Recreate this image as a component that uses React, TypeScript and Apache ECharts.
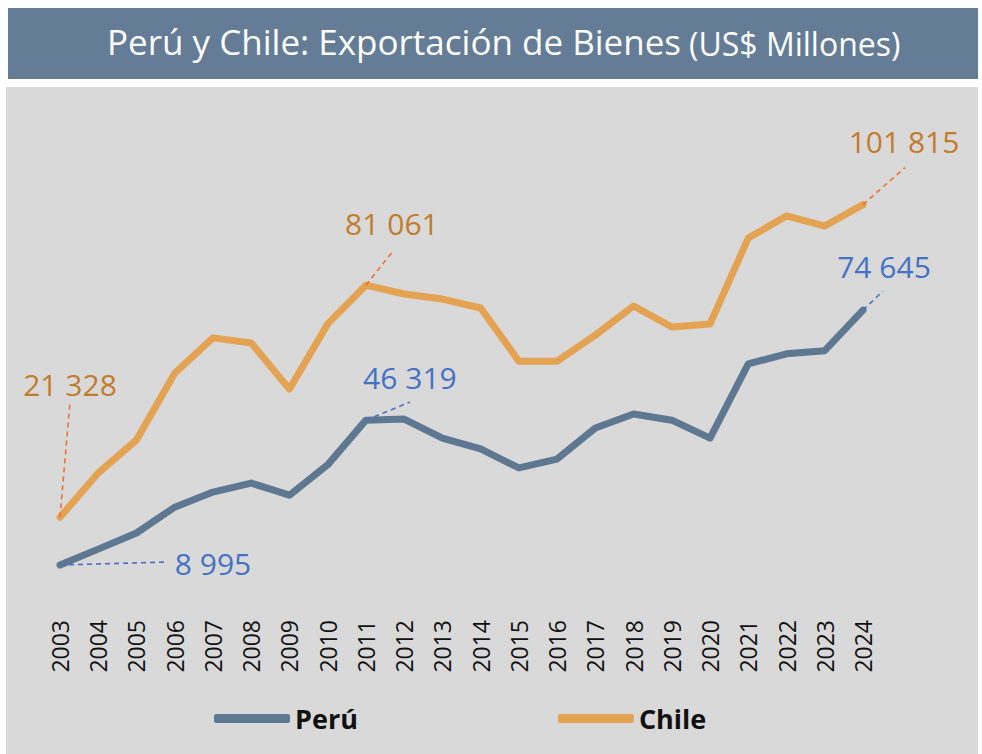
import React, { useEffect, useRef } from "react";
import * as echarts from "echarts";

const years = ["2003","2004","2005","2006","2007","2008","2009","2010","2011","2012","2013","2014","2015","2016","2017","2018","2019","2020","2021","2022","2023","2024"];
const peru = [8995, 13100, 17250, 23900, 27800, 30100, 27000, 34800, 46319, 46600, 41700, 38900, 34000, 36300, 44300, 47900, 46300, 41700, 60800, 63400, 64200, 74645];
const chile = [21328, 32700, 41200, 58400, 67500, 66200, 54300, 71100, 81061, 78800, 77500, 75200, 61500, 61500, 68200, 75700, 70300, 71100, 93200, 98900, 96300, 101815];
const labeledIdx = [0, 8, 21];

const seriesNames = ["Perú", "Chile"];
const titleMain = "Perú y Chile: Exportación de Bienes";
const titleSub = "(US$ Millones)";

// label offsets (px) relative to the point: [labelDx, labelDy, leaderDx, leaderDy]
const labelOffsets: Record<number, Record<number, [number, number, number, number]>> = {
  0: { 0: [153, -2, 105, -3], 8: [44, -43, 44, -18], 21: [21, -44, 20, -19] },
  1: { 0: [10, -133, 10, -115], 8: [26, -62, 27, -34], 21: [41, -63, 42, -37] },
};
const leaderColors = ["#4472c4", "#f07030"];

const fmt = (v: number) => String(v).replace(/\B(?=(\d{3})+(?!\d))/g, " ");

const FONT = "'Open Sans', 'Noto Sans', sans-serif";

export default function App() {
  const ref = useRef<HTMLDivElement>(null);
  useEffect(() => {
    if (!ref.current) return;
    const chart = echarts.init(ref.current, undefined, { renderer: "svg" });
    const mkData = (arr: number[]) =>
      arr.map((v, i) =>
        labeledIdx.includes(i) ? { value: v, label: { show: true } } : { value: v }
      );
    const mkSeries = (name: string, arr: number[], color: string, labelColor: string) => ({
      name,
      type: "line",
      data: mkData(arr),
      symbol: "circle",
      symbolSize: 3,
      showSymbol: true,
      lineStyle: { width: 7, color, join: "round", cap: "round" },
      itemStyle: { color },
      label: {
        show: false,
        formatter: (p: any) => fmt(p.value),
        color: labelColor,
        fontSize: 30,
        fontFamily: FONT,
      },
      labelLayout: (p: any) => {
        const off = labelOffsets[p.seriesIndex]?.[p.dataIndex] || [0, -30, 0, -15];
        const cx = p.rect.x + p.rect.width / 2;
        const cy = p.rect.y + p.rect.height / 2;
        return { x: cx + off[0], y: cy + off[1], align: "center", verticalAlign: "middle" };
      },
      emphasis: { disabled: true },
      z: 3,
    });
    const baseGraphic: any[] = [
      { id: "bar", type: "rect", z: -10, shape: { x: 8, y: 8, width: 970, height: 71 }, style: { fill: "#647c96" } },
      { id: "bg", type: "rect", z: -10, shape: { x: 6, y: 87, width: 972, height: 667 }, style: { fill: "#d9d9d9" } },
      {
        id: "t1", type: "text", z: 10, x: 107, y: 41.5,
        style: { text: titleMain, fill: "#ffffff", fontSize: 35, fontFamily: FONT, verticalAlign: "middle", align: "left" },
      },
      {
        id: "t2", type: "text", z: 10, x: 689, y: 43,
        style: { text: titleSub, fill: "#ffffff", fontSize: 32, fontFamily: FONT, verticalAlign: "middle", align: "left" },
      },
    ];
    chart.setOption({
      animation: false,
      backgroundColor: "#ffffff",
      graphic: baseGraphic,
      grid: { left: 60, right: 119, top: 134, bottom: 154, containLabel: false },
      xAxis: {
        type: "category",
        data: years,
        boundaryGap: false,
        axisLine: { show: false },
        axisTick: { show: false },
        splitLine: { show: false },
        axisLabel: { rotate: 90, margin: 20, fontSize: 23, color: "#111111", fontFamily: FONT, interval: 0 },
      },
      yAxis: { type: "value", min: 0, max: 120000, show: false, splitLine: { show: false } },
      legend: {
        data: seriesNames,
        left: 209,
        top: 700,
        icon: "roundRect",
        itemWidth: 76,
        itemHeight: 9,
        itemGap: 200,
        textStyle: { fontSize: 27, fontWeight: "bold", color: "#111111", fontFamily: FONT },
        selectedMode: false,
      },
      series: [
        mkSeries(seriesNames[0], peru, "#5f7891", "#4472c4"),
        mkSeries(seriesNames[1], chile, "#e3a352", "#c27c2c"),
      ],
    });
    // leader lines from each labelled point, positioned through the chart's own scales
    const leaders: any[] = [];
    [peru, chile].forEach((arr, s) => {
      labeledIdx.forEach((i) => {
        const pt = chart.convertToPixel({ seriesIndex: s }, [i, arr[i]]) as number[];
        const off = labelOffsets[s][i];
        leaders.push({
          id: `leader-${s}-${i}`,
          type: "line",
          z: 20,
          shape: { x1: pt[0], y1: pt[1], x2: pt[0] + off[2], y2: pt[1] + off[3] },
          style: { stroke: leaderColors[s], lineWidth: 1.6, lineDash: [5, 4] },
        });
      });
    });
    chart.setOption({ graphic: [...baseGraphic, ...leaders] });
    return () => chart.dispose();
  }, []);
  return <div ref={ref} style={{ position: "absolute", left: 0, top: 0, width: 982, height: 754 }} />;
}
